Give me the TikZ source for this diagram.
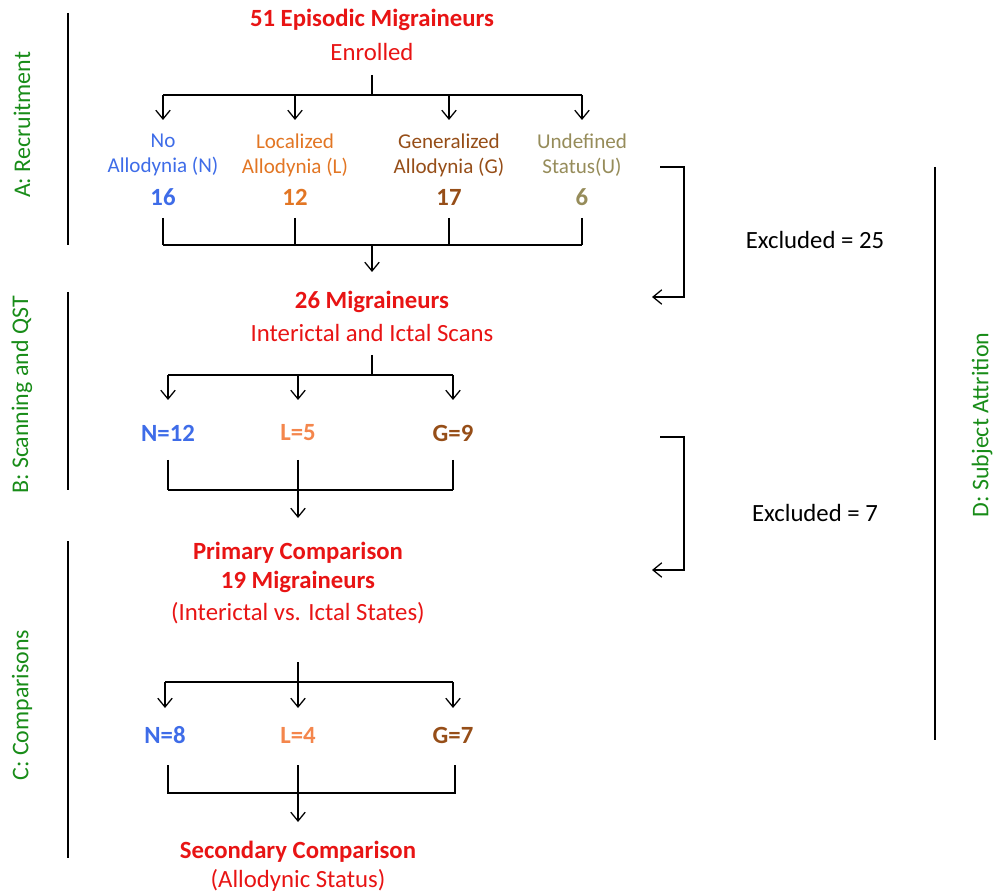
\documentclass[tikz,border=0pt]{standalone}
\usepackage{fontspec}
\setmainfont{Carlito}
\usetikzlibrary{arrows.meta,positioning}

\definecolor{hdred}{RGB}{232,20,20}
\definecolor{grpN}{RGB}{62,108,232}
\definecolor{grpL}{RGB}{226,118,36}
\definecolor{grpLb}{RGB}{244,134,76}
\definecolor{grpG}{RGB}{150,78,24}
\definecolor{grpU}{RGB}{150,140,90}
\definecolor{phaseg}{RGB}{24,140,24}

\begin{document}
\begin{tikzpicture}[
  x=0.025cm,y=-0.025cm,
  head/.style={font=\fontsize{17.6}{20}\selectfont\bfseries, text=hdred, inner sep=1pt},
  sub/.style={font=\fontsize{17.6}{20}\selectfont, text=hdred, inner sep=1pt},
  grp/.style={font=\fontsize{15}{17.8}\selectfont, align=center, inner sep=1pt},
  num/.style={font=\fontsize{17.6}{20}\selectfont\bfseries, inner sep=1pt},
  note/.style={font=\fontsize{17.6}{20}\selectfont, inner sep=1pt},
  phase/.style={font=\fontsize{17}{20}\selectfont, text=phaseg, rotate=90, inner sep=1pt},
  line/.style={line width=0.9pt},
  arr/.style={line width=0.9pt, -{Straight Barb[length=2.2mm,width=3.6mm]}}
]
\useasboundingbox (0,0) rectangle (1008,892);

% phase bars and labels
\draw[line] (68,13) -- (68,245);
\draw[line] (68,292) -- (68,490);
\draw[line] (68,541) -- (68,858);
\draw[line] (935,167) -- (935,740);
\node[phase] (phA) at (22,125) {A: Recruitment};
\node[phase] (phB) at (22,395) {B: Scanning and QST};
\node[phase] (phC) at (22,705) {C: Comparisons};
\node[phase] (phD) at (982,425) {D: Subject Attrition};

% A: recruitment
\node[head] (enroll) at (372,20) {51 Episodic Migraineurs};
\node[sub] (enrolled) at (372,52) {Enrolled};
\node[grp,text=grpN] (noA) at (163,155) {No\\Allodynia (N)};
\node[grp,text=grpL] (loA) at (295,155) {Localized\\Allodynia (L)};
\node[grp,text=grpG] (geA) at (449,155) {Generalized\\Allodynia (G)};
\node[grp,text=grpU] (unA) at (582,155) {Undefined\\Status(U)};
\node[num,text=grpN] (noAn) at (163,197) {16};
\node[num,text=grpL] (loAn) at (295,197) {12};
\node[num,text=grpG] (geAn) at (449,197) {17};
\node[num,text=grpU] (unAn) at (582,197) {6};

\coordinate (a0) at (372,75);
\coordinate (a1) at (372,95);
\coordinate (a2) at (372,120);
\coordinate (a3) at (372,218);
\coordinate (a4) at (372,245);
\coordinate (b0) at (372,272);
\draw[line] (a0) -- (a1);
\draw[line] (noA |- a1) -- (unA |- a1);
\foreach \g in {noA,loA,geA,unA}
  \draw[arr] (\g |- a1) -- (\g |- a2);
\foreach \g in {noAn,loAn,geAn,unAn}
  \draw[line] (\g |- a3) -- (\g |- a4);
\draw[line] (noAn |- a4) -- (unAn |- a4);
\draw[arr] (a4) -- (b0);

% exclusions
\coordinate (ex1s) at (660,167);
\coordinate (ex1c) at (684,167);
\coordinate (ex1e) at (652,297);
\draw[arr] (ex1s) -- (ex1c) |- (ex1e);
\node[note] (ex1) at (815,240) {Excluded = 25};
\coordinate (ex2s) at (660,437);
\coordinate (ex2c) at (684,437);
\coordinate (ex2e) at (652,570);
\draw[arr] (ex2s) -- (ex2c) |- (ex2e);
\node[note] (ex2) at (815,513) {Excluded = 7};

% B: scanning
\node[head] (scan) at (372,302) {26 Migraineurs};
\node[sub] (scans) at (372,333) {Interictal and Ictal Scans};
\node[num,text=grpN] (nB) at (168,433) {N=12};
\node[num,text=grpLb] (lB) at (298,433) {L=5};
\node[num,text=grpG] (gB) at (453,433) {G=9};

\coordinate (b1) at (372,355);
\coordinate (b2) at (372,375);
\coordinate (b3) at (372,400);
\coordinate (b4) at (298,460);
\coordinate (b5) at (298,490);
\coordinate (c0) at (298,518);
\draw[line] (b1) -- (b2);
\draw[line] (nB |- b2) -- (gB |- b2);
\foreach \g in {nB,lB,gB}
  \draw[arr] (\g |- b2) -- (\g |- b3);
\foreach \g in {nB,gB}
  \draw[line] (\g |- b4) -- (\g |- b5);
\draw[line] (nB |- b5) -- (gB |- b5);
\draw[arr] (b4) -- (c0);

% C: comparisons
\node[head] (prim) at (298,553) {Primary Comparison};
\node[head] (primn) at (298,582) {19 Migraineurs};
\node[sub] (prims) at (298,613) {(Interictal vs. Ictal States)};
\node[num,text=grpN] (nC) at (165,735) {N=8};
\node[num,text=grpLb] (lC) at (298,735) {L=4};
\node[num,text=grpG] (gC) at (453,735) {G=7};

\coordinate (c1) at (298,662);
\coordinate (c2) at (298,682);
\coordinate (c3) at (298,708);
\coordinate (c4) at (298,765);
\coordinate (c5) at (298,793);
\coordinate (d0) at (298,822);
\draw[arr] (c1) -- (c3);
\draw[line] (nC |- c2) -- (gC |- c2);
\foreach \g in {nC,gC}
  \draw[arr] (\g |- c2) -- (\g |- c3);
\draw[line] (168,765) -- (168,793) -- (455,793) -- (455,765);
\draw[arr] (c4) -- (d0);

\node[head] (sec) at (298,852) {Secondary Comparison};
\node[sub] (secs) at (298,880) {(Allodynic Status)};
\end{tikzpicture}
\end{document}
